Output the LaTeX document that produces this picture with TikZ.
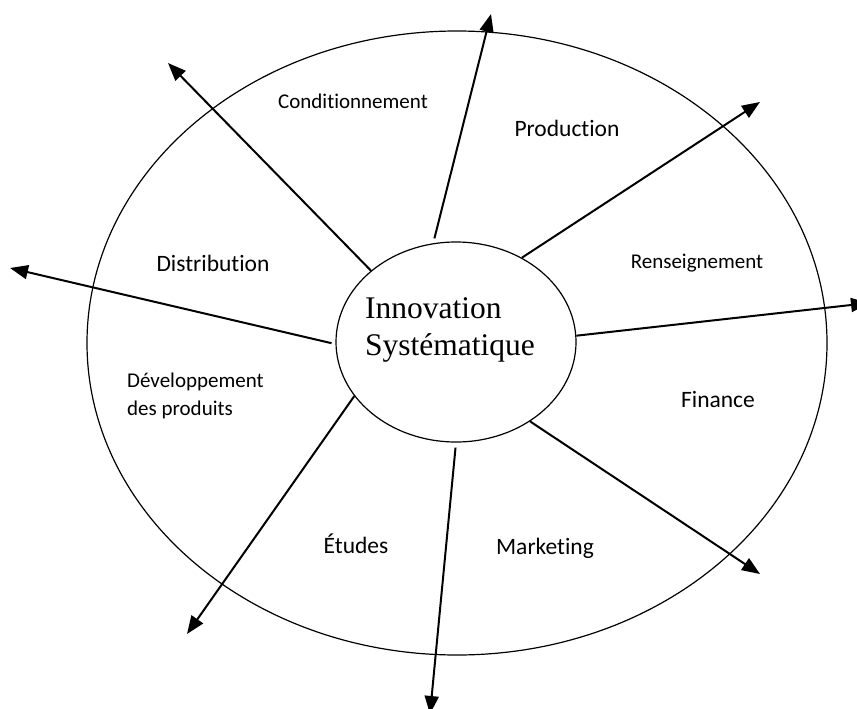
\documentclass[tikz,border=0pt]{standalone}
\usepackage{fontspec}
\setmainfont{Liberation Serif}
\newfontfamily\labelfont[Ligatures=NoCommon]{Carlito}
\usetikzlibrary{positioning}
\usetikzlibrary{arrows.meta}
\usetikzlibrary{shapes.geometric}

\begin{document}
\begin{tikzpicture}[x=1pt,y=-1pt,
	core/.style={draw, ellipse, line width=1.2pt, minimum width=240pt, minimum height=200pt, inner sep=0pt},
	dept/.style={font=\labelfont\fontsize{23.5}{28}\selectfont, anchor=base, inner sep=0pt},
	deptsmall/.style={dept, font=\labelfont\fontsize{21}{28}\selectfont},
	spoke/.style={-{Triangle[length=18pt,width=14pt]}, line width=2pt}]

	\useasboundingbox (0,0) rectangle (857,709);
	\draw [line width=1.2pt] (457,343) ellipse [x radius=370, y radius=312];

	\node [core] (inner) at (456,342) {};
	\node [anchor=base west, align=left, font=\fontsize{31.5}{37}\selectfont, inner sep=0pt] (title) at (365,355) {Innovation\\Syst\'ematique};

	\node [deptsmall] (cond) at (353,108) {Conditionnement};
	\node [dept] (prod) at (567,136) {Production};
	\node [deptsmall] (rens) at (697,268) {Renseignement};
	\node [dept] (dist) at (213,271) {Distribution};
	\node [deptsmall, anchor=base west, align=left] (dev) at (127,415) {D\'eveloppement\\des produits};
	\node [dept] (fin) at (718,407) {Finance};
	\node [dept] (mark) at (545,554) {Marketing};
	\node [dept] (etud) at (356,553) {\'Etudes};

	\coordinate (tipnw) at (168,63);
	\coordinate (tipn) at (491,14);
	\coordinate (tipne) at (760,102);
	\coordinate (tipe) at (869,303);
	\coordinate (tipse) at (760,574);
	\coordinate (tips) at (430,714);
	\coordinate (tipsw) at (187,634);
	\coordinate (tipw) at (10,268);

	\draw [spoke] (inner.140.6) -- (tipnw);
	\draw [spoke, shorten <=5pt] (inner.103.4) -- (tipn);
	\draw [spoke] (inner.52) -- (tipne);
	\draw [spoke] (inner.3.3) -- (tipe);
	\draw [spoke] (inner.-47) -- (tipse);
	\draw [spoke, shorten <=5pt] (inner.-90) -- (tips);
	\draw [spoke] (inner.208.6) -- (tipsw);
	\draw [spoke, shorten <=4pt] (inner.181.8) -- (tipw);
\end{tikzpicture}
\end{document}
